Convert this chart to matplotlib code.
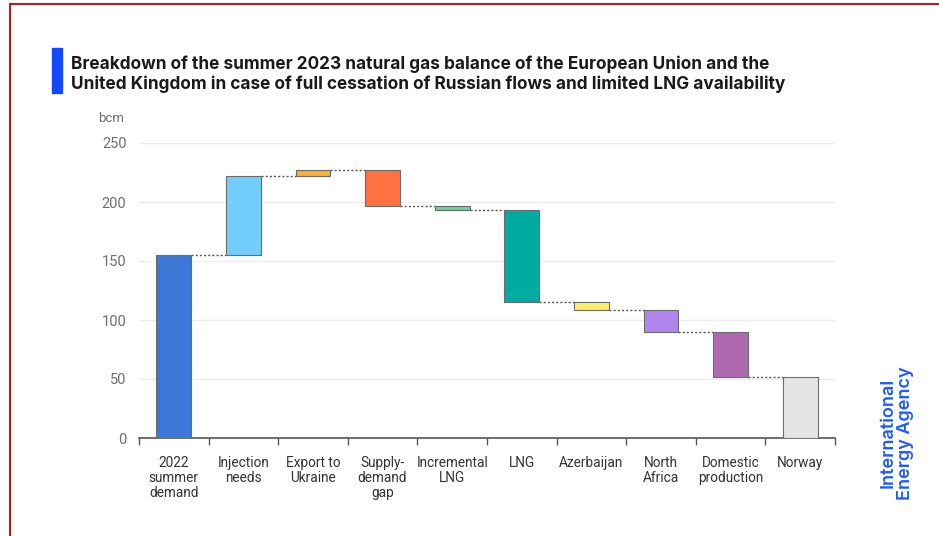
import numpy as np
import matplotlib.pyplot as plt
from matplotlib.patches import Rectangle

# 数据
categories = ['2022\nsummer\ndemand', 'Injection\nneeds', 'Export to\nUkraine',
              'Supply-\ndemand\ngap', 'Incremental\nLNG', 'LNG', 'Azerbaijan',
              'North\nAfrica', 'Domestic\nproduction', 'Norway']
# 变化量 (首尾为总量)
changes = [155, 67, 5, -30, -4, -78, -6.5, -18.5, -38.5, 51.5]
colors = ['#3C78D5', '#72CEFA', '#F8B133', '#FF7043', '#5EDD8C', '#00AC9F',
          '#FFF06B', '#B085EC', '#AE6AB1', '#E5E5E5']
y_ticks = [0, 50, 100, 150, 200, 250]

fig = plt.figure(figsize=(9.39, 5.36), dpi=100)
ax = fig.add_axes([139 / 939, 98 / 536, 696 / 939, 295 / 536])

x = np.arange(len(categories))
width = 0.5
level = 0
bottoms, heights = [], []
for i, c in enumerate(changes):
    if i == 0 or i == len(changes) - 1:
        bottoms.append(0)
        heights.append(c)
        level = c
    else:
        bottoms.append(min(level, level + c))
        heights.append(abs(c))
        level += c

ax.bar(x, heights, bottom=bottoms, width=width, color=colors,
       edgecolor='#6b6b6b', linewidth=0.8, zorder=3)

# 连接线
level = 0
for i, c in enumerate(changes[:-1]):
    level = c if i == 0 else level + c
    ax.plot([x[i] + width / 2, x[i + 1] - width / 2], [level, level],
            linestyle=(0, (1.5, 1.5)), color='#555555', linewidth=1.0, zorder=2)

ax.set_xlim(-0.5, len(categories) - 0.5)
ax.set_ylim(0, 250)
ax.set_yticks(y_ticks)
ax.set_yticklabels([str(t) for t in y_ticks], fontsize=10.5, color='#6e6e6e',
                   family='Roboto')
ax.yaxis.grid(True, color='#ececec', linewidth=1, zorder=0)
ax.tick_params(axis='y', length=0, pad=9)

ax.set_xticks(x)
ax.set_xticklabels(categories, fontsize=9.8, color='#333333', family='Roboto',
                   linespacing=1.1)
ax.tick_params(axis='x', length=0, pad=13)
ax.set_xticks(np.arange(-0.5, len(categories)), minor=True)
ax.tick_params(axis='x', which='minor', length=5, color='#555555', width=1)

for s in ['top', 'right', 'left']:
    ax.spines[s].set_visible(False)
ax.spines['bottom'].set_color('#555555')
ax.spines['bottom'].set_linewidth(1.2)
ax.set_axisbelow(True)

fig.text(98 / 939, 1 - 118 / 536, 'bcm', fontsize=9.5, color='#6e6e6e',
         family='Roboto', va='center')

# 标题
fig.patches.append(Rectangle((52 / 939, 1 - 93 / 536), 10 / 939, 45 / 536,
                             transform=fig.transFigure, color='#1448FF'))
fig.text(71 / 939, 1 - 74 / 536,
         'Breakdown of the summer 2023 natural gas balance of the European Union and the\n'
         'United Kingdom in case of full cessation of Russian flows and limited LNG availability',
         fontsize=12.4, fontweight='bold', color='#1a1a1a', family='Inter',
         va='center', linespacing=1.15)

fig.text(897 / 939, 1 - 433 / 536, 'International\nEnergy Agency', rotation=90,
         fontsize=13, color='#1E5BFF', family='Inter', fontweight='semibold',
         ha='center', va='center', linespacing=1.0)

# 边框
fig.patches.append(Rectangle((10 / 939, -0.1), 1.2, 1 - 4 / 536 + 0.1,
                             transform=fig.transFigure, fill=False,
                             edgecolor='#B01E1E', linewidth=1.5))

fig.savefig('out.png', dpi=100)
